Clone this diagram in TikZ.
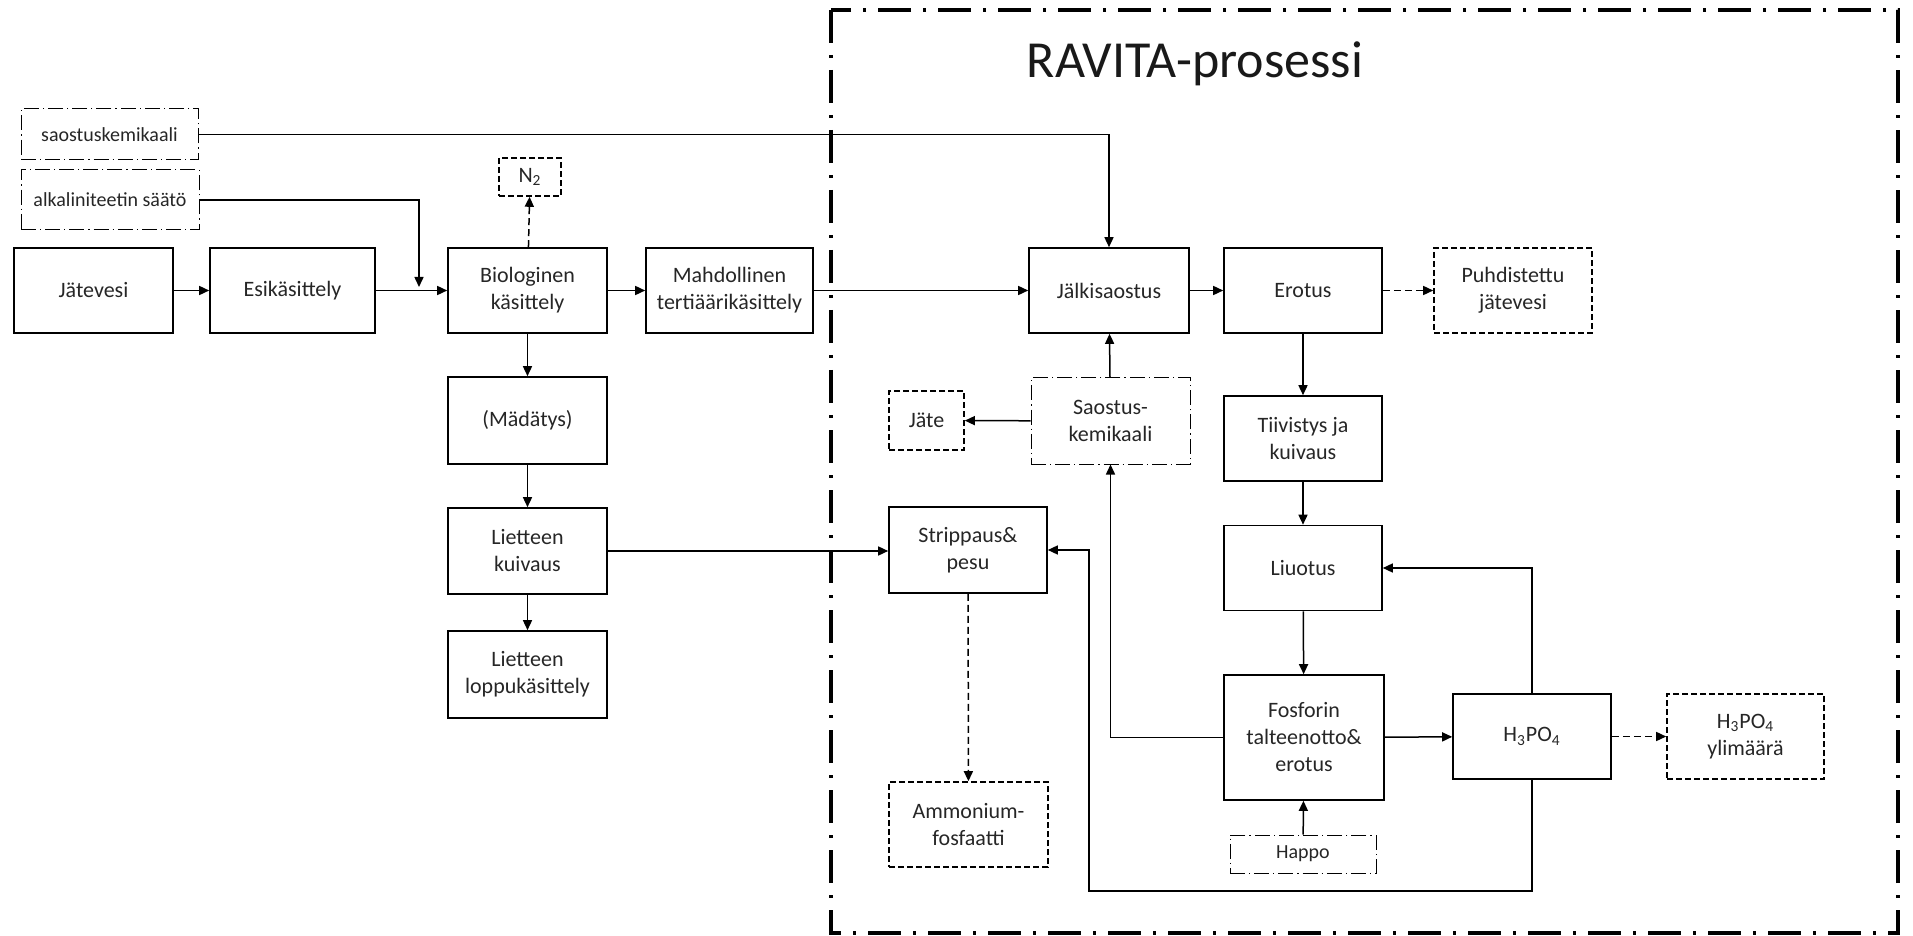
\documentclass[tikz,border=0pt]{standalone}
\usepackage{fontspec}
\setmainfont{Carlito}
\usetikzlibrary{arrows.meta}

\begin{document}
\begin{tikzpicture}[x=0.5pt,y=-0.5pt,
    box/.style={draw,line width=0.8pt,minimum width=79.5pt,minimum height=42.5pt,
        align=center,inner sep=1pt,text=black!85,font=\fontsize{11}{13.5}\selectfont},
    outbox/.style={box,dash pattern=on 3pt off 1.5pt},
    inbox/.style={box,line width=0.5pt,dash pattern=on 7.5pt off 2pt on 0.6pt off 2pt,
        font=\fontsize{10}{12}\selectfont},
    arr/.style={-{Triangle[length=5pt,width=4.5pt]},line width=0.75pt},
    darr/.style={arr,dash pattern=on 3.5pt off 2pt}]
    \useasboundingbox (0,0) rectangle (1913,936);
    \draw [line width=2pt,dash pattern=on 16.5pt off 6pt on 1.5pt off 6pt] (831,10) rectangle (1898,933);
    \node [font=\fontsize{26}{30}\selectfont,text=black!90] (title) at (1195,64) {RAVITA-prosessi};

    \node [inbox,minimum width=88.5pt,minimum height=25.5pt] (sk) at (109.5,134.5) {saostuskemikaali};
    \node [inbox,minimum width=89pt,minimum height=30pt] (alk) at (110,200) {alkaliniteetin säätö};
    \node [outbox,minimum width=31pt,minimum height=19pt] (n2) at (530,177) {N\textsubscript{2}};
    \node [box] (jv) at (93.5,290.5) {Jätevesi};
    \node [box,minimum width=82.5pt] (esi) at (292.5,290.5) {Esikäsittely};
    \node [box] (bio) at (527.5,290.5) {Biologinen\\käsittely};
    \node [box,minimum width=83.5pt] (mahd) at (729.5,290.5) {Mahdollinen\\tertiäärikäsittely};
    \node [box,minimum height=43.5pt] (mad) at (527.5,420.5) {(Mädätys)};
    \node [box,minimum height=43pt] (lk) at (527.5,551) {Lietteen\\kuivaus};
    \node [box,minimum height=43.5pt] (lop) at (527.5,674.5) {Lietteen\\loppukäsittely};

    \node [box,minimum width=80pt] (jalk) at (1109,290.5) {Jälkisaostus};
    \node [box,minimum width=79pt] (ero) at (1303,290.5) {Erotus};
    \node [outbox,minimum width=79pt] (puh) at (1513,290.5) {Puhdistettu\\jätevesi};
    \node [outbox,minimum width=37.5pt,minimum height=29.5pt] (jate) at (926.5,420.5) {Jäte};
    \node [inbox,minimum height=43pt,font=\fontsize{11}{13.5}\selectfont] (sk2) at (1110.5,421) {Saostus-\\kemikaali};
    \node [box,minimum width=79pt] (tii) at (1303,438.5) {Tiivistys ja\\kuivaus};
    \node [box,minimum width=79pt,minimum height=43pt] (str) at (968,550) {Strippaus\&\\pesu};
    \node [box,minimum width=79pt] (liu) at (1303,568) {Liuotus};
    \node [box,minimum width=80pt,minimum height=62.5pt] (fos) at (1304,737.5) {Fosforin\\talteenotto\&\\erotus};
    \node [box,minimum width=79pt] (h3) at (1532,736.5) {H\textsubscript{3}PO\textsubscript{4}};
    \node [outbox,minimum width=78.5pt] (yli) at (1745.5,736.5) {H\textsubscript{3}PO\textsubscript{4}\\ylimäärä};
    \node [inbox,minimum width=73pt,minimum height=19pt] (happo) at (1303,854) {Happo};
    \node [outbox] (amm) at (968.5,824.5) {Ammonium-\\fosfaatti};

    \coordinate (alkend) at (419,287);
    \coordinate (loopb) at (1089,891);

    \draw [arr] (jv) -- (esi);
    \draw [arr] (esi) -- (bio);
    \draw [arr] (alk.east) -| (alkend);
    \draw [arr] (sk.east) -| (jalk.north);
    \draw [darr] (bio) -- (n2);
    \draw [arr] (bio) -- (mahd);
    \draw [arr] (mahd) -- (jalk);
    \foreach \a/\b in {bio/mad,mad/lk,lk/lop,ero/tii,tii/liu,liu/fos}
    \draw [arr] (\a) -- (\b);
    \draw [arr] (lk.east) -- (lk.east -| str.west);
    \draw [arr] (jalk) -- (ero);
    \draw [darr] (ero) -- (puh);
    \draw [arr] (sk2) -- (jalk);
    \draw [arr] (sk2) -- (jate);
    \draw [arr] (fos.west) -| (sk2.south);
    \draw [arr] (fos) -- (h3);
    \draw [darr] (h3) -- (yli);
    \draw [arr] (h3.north) |- (liu.east);
    \draw [arr] (h3.south) |- (loopb) |- (str.east);
    \draw [arr] (happo) -- (fos);
    \draw [darr] (str) -- (amm);
\end{tikzpicture}
\end{document}
